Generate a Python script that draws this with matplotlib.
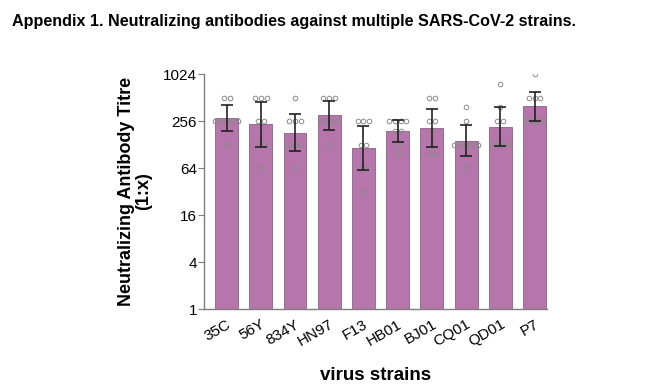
"""Appendix 1: neutralizing antibody titres against SARS-CoV-2 strains."""
import numpy as np
import matplotlib
matplotlib.use("Agg")
import matplotlib.pyplot as plt
from matplotlib.ticker import FixedLocator, NullLocator

plt.rcParams["font.family"] = ["Liberation Sans", "DejaVu Sans"]

strains = ["35C", "56Y", "834Y", "HN97", "F13", "HB01", "BJ01", "CQ01", "QD01", "P7"]

# individual serum titres (8 per strain)
titres = [
    [512, 512, 256, 256, 256, 256, 256, 128],
    [512, 512, 512, 256, 256, 128, 128, 64],
    [512, 256, 256, 256, 128, 128, 128, 64],
    [512, 512, 512, 256, 256, 256, 256, 128],
    [256, 256, 256, 128, 128, 64, 64, 32],
    [256, 256, 256, 256, 192, 192, 128, 96],
    [512, 512, 256, 256, 192, 128, 96, 96],
    [384, 256, 128, 128, 128, 128, 128, 64],
    [768, 384, 256, 256, 128, 128, 128, 128],
    [1024, 512, 512, 512, 256, 256, 256, 256],
]

# geometric mean titres and error bar ends
gmt = [277, 232, 179, 304, 115, 191, 206, 144, 215, 394]
err_low = [191, 120, 105, 199, 60, 139, 119, 91, 124, 256]
err_high = [408, 452, 311, 461, 224, 260, 367, 228, 383, 605]

yticks = [1, 4, 16, 64, 256, 1024]

BAR_COLOR = "#b676ab"
EDGE_COLOR = "#8c6088"
SPINE_COLOR = "#7f7f7f"

fig = plt.figure(figsize=(6.59, 3.92), dpi=100)
ax = fig.add_axes([0.3096, 0.2117, 0.5207, 0.5995])

x = np.arange(len(strains))
ax.bar(x, gmt, width=0.67, color=BAR_COLOR, edgecolor=EDGE_COLOR,
       linewidth=0.6, zorder=1)

gmt_a = np.array(gmt, dtype=float)
yerr = [gmt_a - np.array(err_low), np.array(err_high) - gmt_a]
ax.errorbar(x, gmt, yerr=yerr, fmt="none", ecolor="#222222",
            elinewidth=1.2, capsize=4, capthick=1.2, zorder=3)

# scatter the individual points, spreading equal values sideways
spacing = 0.17
for i, vals in enumerate(titres):
    uniq, counts = np.unique(vals, return_counts=True)
    for v, n in zip(uniq, counts):
        offs = (np.arange(n) - (n - 1) / 2) * spacing
        ax.plot(x[i] + offs, [v] * n, "o", ms=3.3, mfc="none",
                mec="#8a8a8a", mew=0.7, zorder=2)

ax.set_yscale("log", base=2)
ax.set_ylim(1, 1024)
ax.yaxis.set_major_locator(FixedLocator(yticks))
ax.yaxis.set_minor_locator(NullLocator())
ax.set_yticklabels([str(t) for t in yticks])
ax.set_xlim(-0.66, 9.37)
ax.set_xticks(x)
ax.set_xticklabels(strains, rotation=30, ha="right", rotation_mode="anchor")

for side in ["top", "right"]:
    ax.spines[side].set_visible(False)
for side in ["left", "bottom"]:
    ax.spines[side].set_color(SPINE_COLOR)
    ax.spines[side].set_linewidth(1.0)
ax.tick_params(axis="y", length=4, width=0.8, color=SPINE_COLOR,
               labelsize=11, pad=1)
ax.tick_params(axis="x", length=0, labelsize=11, pad=6)

ax.set_ylabel("Neutralizing Antibody Titre\n(1:x)", fontsize=13,
              fontweight="bold", labelpad=8, linespacing=1.0)
ax.set_xlabel("virus strains", fontsize=13.5, fontweight="bold", labelpad=13)

fig.text(0.018, 0.945, "Appendix 1. Neutralizing antibodies against multiple "
         "SARS-CoV-2 strains.", fontsize=11.6, fontweight="bold",
         ha="left", va="center")

fig.savefig("out.png", dpi=100)
